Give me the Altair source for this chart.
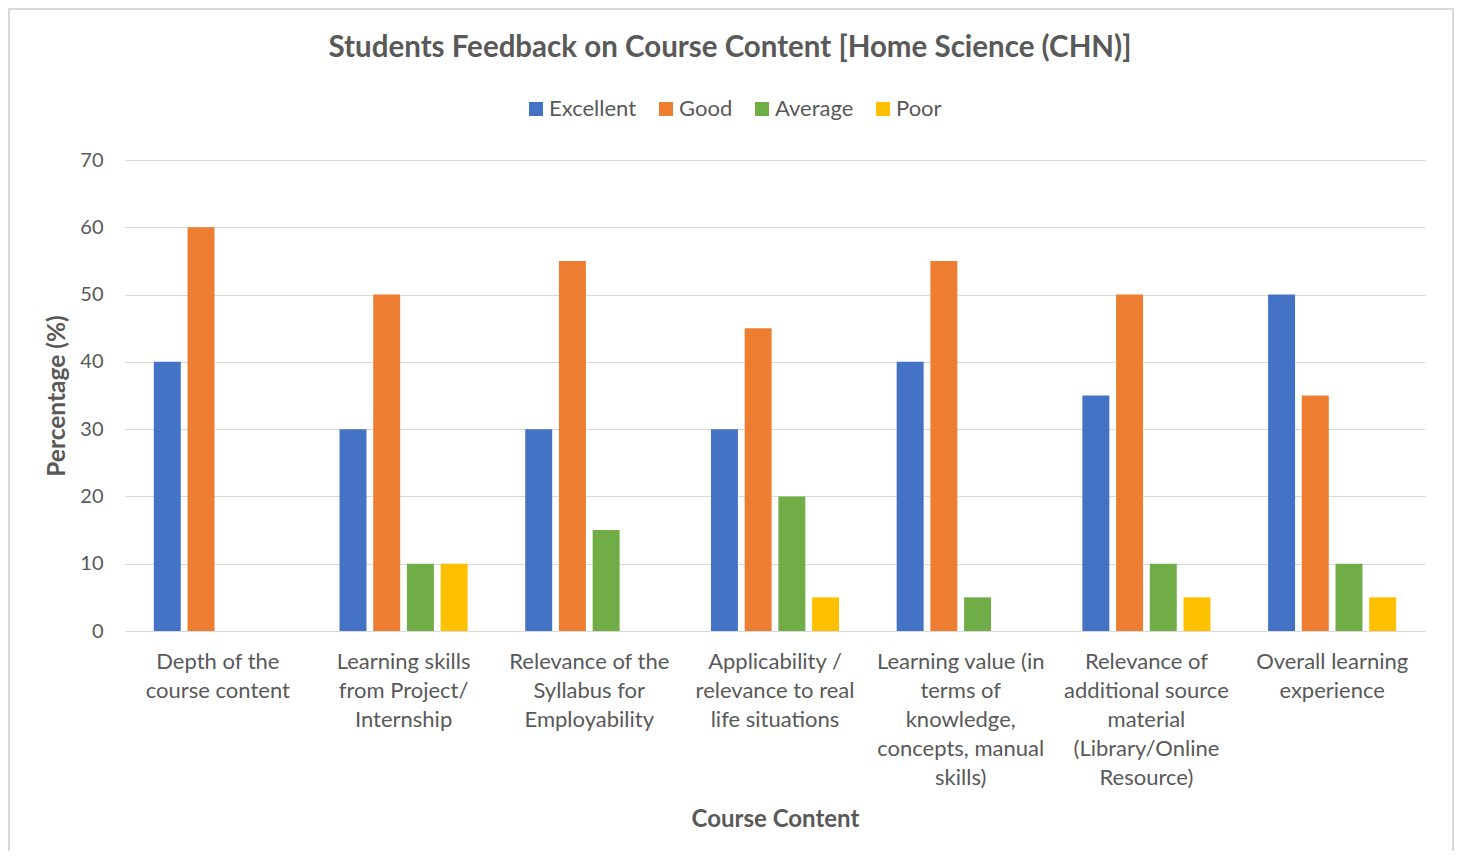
import altair as alt
import pandas as pd

categories = [
    "Depth of the\ncourse content",
    "Learning skills\nfrom Project/\nInternship",
    "Relevance of the\nSyllabus for\nEmployability",
    "Applicability /\nrelevance to real\nlife situations",
    "Learning value (in\nterms of\nknowledge,\nconcepts, manual\nskills)",
    "Relevance of\nadditional source\nmaterial\n(Library/Online\nResource)",
    "Overall learning\nexperience",
]
series = ["Excellent", "Good", "Average", "Poor"]
excellent = [40, 30, 30, 30, 40, 35, 50]
good = [60, 50, 55, 45, 55, 50, 35]
average = [0, 10, 15, 20, 5, 10, 10]
poor = [0, 10, 0, 5, 0, 5, 5]
colors = ["#4472C4", "#ED7D31", "#70AD47", "#FFC000"]

rows = []
for s, vals in zip(series, [excellent, good, average, poor]):
    for c, v in zip(categories, vals):
        rows.append({"Category": c, "Rating": s, "Value": v})
df = pd.DataFrame(rows)

FONT = "Lato"
GREY = "#595959"

bars = alt.Chart(df).mark_bar().encode(
    x=alt.X("Category:N", sort=categories,
            scale=alt.Scale(paddingInner=0, paddingOuter=0),
            axis=alt.Axis(title="Course Content", labelAngle=0,
                          labelExpr="split(datum.label, '\\n')",
                          labelFontSize=22, labelColor=GREY, labelFont=FONT,
                          labelLineHeight=29, labelPadding=20,
                          labelBaseline="top",
                          titleFontSize=24, titleColor=GREY, titleFont=FONT,
                          titleFontWeight="bold", titlePadding=19,
                          ticks=False, domainColor="#D9D9D9", grid=False)),
    xOffset=alt.XOffset("Rating:N", sort=series,
                        scale=alt.Scale(paddingInner=0.2, paddingOuter=0.855)),
    y=alt.Y("Value:Q",
            scale=alt.Scale(domain=[0, 70]),
            axis=alt.Axis(title="Percentage (%)", values=[0, 10, 20, 30, 40, 50, 60, 70],
                          labelFontSize=20, labelColor=GREY, labelFont=FONT,
                          labelPadding=22, titleFontSize=24.5, titleColor=GREY,
                          titleFont=FONT, titleFontWeight="bold", titlePadding=10,
                          ticks=False, domain=False, gridColor="#D9D9D9")),
    color=alt.Color("Rating:N", sort=series,
                    scale=alt.Scale(domain=series, range=colors),
                    legend=alt.Legend(title=None, orient="none", direction="horizontal",
                                      legendX=400, legendY=-62,
                                      symbolType="square", symbolSize=196,
                                      symbolStrokeWidth=0,
                                      labelFontSize=22, labelColor=GREY, labelFont=FONT,
                                      labelOffset=2, columnPadding=18)),
)

frame = alt.Chart(pd.DataFrame({"f": [0]})).mark_rect(
    fill=None, stroke="#D9D9D9", strokeWidth=2
).encode(
    x=alt.value(-116), x2=alt.value(1328), y=alt.value(-151), y2=alt.value(720)
)

chart = alt.layer(frame, bars).properties(
    width=1300, height=471,
    title=alt.TitleParams("Students Feedback on Course Content [Home Science (CHN)]",
                          fontSize=29.5, font=FONT, fontWeight="bold", color=GREY,
                          anchor="middle", dx=-45, offset=0, dy=55),
    autosize=alt.AutoSizeParams(type="none"),
    padding={"left": 117, "top": 152, "right": 30, "bottom": 220},
    background="white",
).configure_view(stroke=None)

chart.save("out.html", embed_options={"renderer": "svg", "actions": False})
